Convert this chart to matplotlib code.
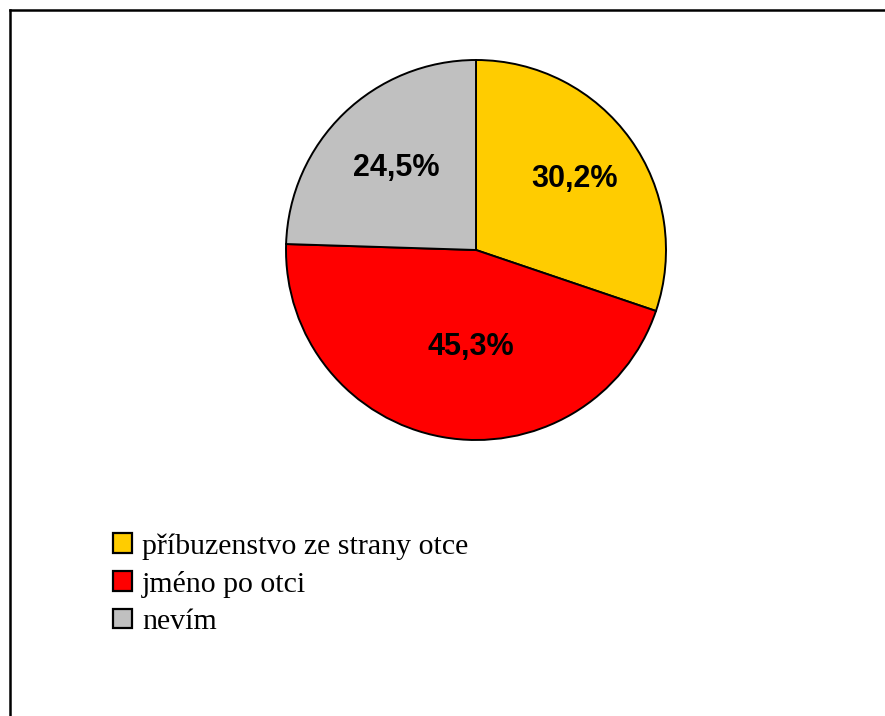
import matplotlib
matplotlib.use("Agg")
import matplotlib.pyplot as plt
from matplotlib.patches import Patch
from matplotlib.lines import Line2D
import numpy as np

categories = ["příbuzenstvo ze strany otce", "jméno po otci", "nevím"]
values = [30.2, 45.3, 24.5]
labels = ["30,2%", "45,3%", "24,5%"]
colors = ["#FFCC00", "#FF0000", "#C0C0C0"]

# label placement (layout only)
label_dist = [0.64, 0.51, 0.60]
label_shift_deg = [0.0, 7.0, 0.0]

W, H = 885, 716
fig = plt.figure(figsize=(W / 100, H / 100), dpi=100)
fig.patch.set_facecolor("white")

# pie axes: center (476,250) px from top, radius 190 px
cx, cy, r = 476, 250, 190
ax = fig.add_axes([(cx - r) / W, (H - cy - r) / H, 2 * r / W, 2 * r / H])
wedges, _ = ax.pie(values, colors=colors, startangle=90, counterclock=False,
                   radius=1.0, wedgeprops=dict(edgecolor="black", linewidth=1.4))
ax.set_xlim(-1, 1)
ax.set_ylim(-1, 1)
ax.set_aspect("equal")
ax.axis("off")

for w, lab, d, s in zip(wedges, labels, label_dist, label_shift_deg):
    ang = np.deg2rad((w.theta1 + w.theta2) / 2 + s)
    ax.text(d * np.cos(ang), d * np.sin(ang), lab, ha="center", va="center",
            fontsize=22, fontweight="bold", family="Liberation Sans")

handles = [Patch(facecolor=c, edgecolor="black", linewidth=1.6) for c in colors]
fig.legend(handles, categories, loc="upper left",
           bbox_to_anchor=(113 / W, 1 - 533 / H), frameon=False,
           prop={"family": "Liberation Serif", "size": 21.5},
           handlelength=0.64, handleheight=0.64, handletextpad=0.33,
           labelspacing=0.37, borderpad=0, borderaxespad=0)

# outer frame (top and left visible)
fig.add_artist(Line2D([10 / W, 1.0], [1 - 10 / H, 1 - 10 / H], transform=fig.transFigure,
                      color="black", linewidth=1.8))
fig.add_artist(Line2D([10 / W, 10 / W], [0.0, 1 - 10 / H], transform=fig.transFigure,
                      color="black", linewidth=1.8))

fig.savefig("out.png", dpi=100, facecolor="white")
